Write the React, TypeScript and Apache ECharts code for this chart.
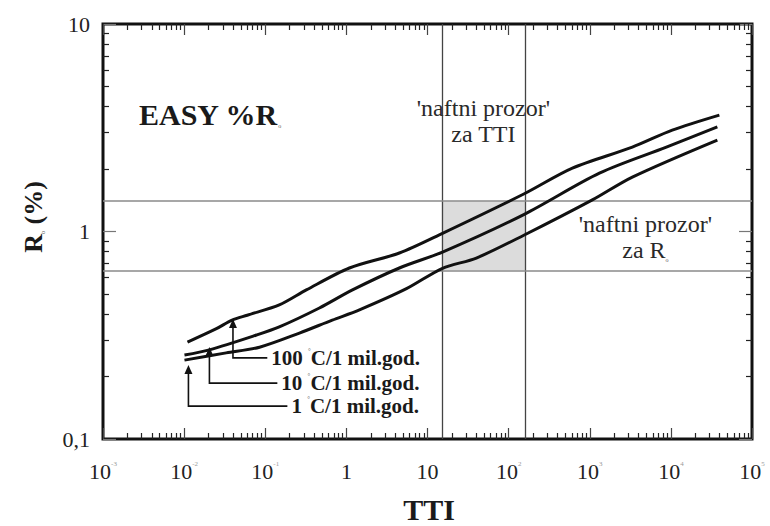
import { useEffect, useRef } from 'react';
import * as echarts from 'echarts';

// ---- data ----
const xTickLabels = ['10|-3', '10|-2', '10|-1', '1', '10', '10|2', '10|3', '10|4', '10|5'];
const yTickLabels = ['0,1', '1', '10'];
const xDecades = [-3, -2, -1, 0, 1, 2, 3, 4, 5];
const yDecades = [-1, 0, 1];

const curve100C = [
  [0.011, 0.293], [0.025, 0.34], [0.039, 0.374], [0.06, 0.395], [0.149, 0.443], [0.321, 0.523],
  [1.09, 0.667], [4.5, 0.788], [15.3, 0.98], [156, 1.52], [611, 2.02],
  [3350, 2.55], [10400, 3.08], [39600, 3.64],
];
const curve10C = [
  [0.0101, 0.254], [0.0205, 0.269], [0.078, 0.317], [0.149, 0.347], [0.465, 0.428],
  [1.19, 0.523], [4.5, 0.667], [15.3, 0.796], [156, 1.21], [1315, 1.91],
  [8800, 2.55], [37400, 3.19],
];
const curve1C = [
  [0.0101, 0.24], [0.033, 0.26], [0.085, 0.277], [0.264, 0.324], [0.67, 0.374],
  [1.45, 0.419], [5.5, 0.53], [15.3, 0.665], [40, 0.745], [156, 0.962],
  [1077, 1.42], [3350, 1.83], [37400, 2.76],
];

const ttiWindow = [15, 160];
const roWindow = [0.65, 1.4];

// arrow: [x of arrow, R at tip, R of label row, x where horizontal leader ends]
const arrowRates = ['100', '10', '1'];
const arrowData = [
  [0.04, 0.379, 0.246, 0.106],
  [0.0205, 0.2776, 0.186, 0.141],
  [0.0113, 0.2274, 0.144, 0.1874],
];

// window labels: [TTI, R] centre
const windowLabelData = [
  [48.9, 3.39],
  [4850, 0.936],
];

const X_MIN = 1e-3;
const X_MAX = 1e5;
const Y_MIN = 0.1;
const Y_MAX = 10;

const serif = '"Liberation Serif", "Times New Roman", serif';

export default function App() {
  const ref = useRef<HTMLDivElement>(null);

  useEffect(() => {
    if (!ref.current) return;
    const chart = echarts.init(ref.current, null, { renderer: 'svg' });

    const lineSeries = (name: string, data: number[][]) => ({
      name,
      type: 'line',
      data,
      smooth: 0.3,
      showSymbol: false,
      symbol: 'none',
      lineStyle: { color: '#111', width: 3 },
      z: 5,
    });

    const ticksX = {
      axisTick: { show: true, inside: true, length: 11, lineStyle: { color: '#444', width: 1.2 } },
      minorTick: { show: true, splitNumber: 9, length: 6, lineStyle: { color: '#222', width: 1.2 } },
    };
    const ticksY = {
      axisTick: { show: true, inside: true, length: 13, lineStyle: { color: '#777', width: 1.2 } },
      minorTick: { show: true, splitNumber: 9, length: 6, lineStyle: { color: '#222', width: 1.2 } },
    };

    const xLabelFormatter = (v: number) => {
      const idx = Math.round(Math.log10(v)) - xDecades[0];
      const t = xTickLabels[idx] || '';
      const parts = t.split('|');
      if (parts.length === 1) return `{b|${parts[0]}}`;
      return `{b|${parts[0]}}{s|${parts[1]}}`;
    };
    const yLabelFormatter = (v: number) => {
      const idx = Math.round(Math.log10(v)) - yDecades[0];
      return yTickLabels[idx] || '';
    };

    const option: any = {
      animation: false,
      backgroundColor: '#fff',
      grid: {
        left: 103,
        top: 24,
        right: 18,
        bottom: 87,
        show: true,
        borderColor: '#111',
        borderWidth: 3,
        backgroundColor: 'transparent',
      },
      xAxis: [
        {
          type: 'log',
          logBase: 10,
          min: X_MIN,
          max: X_MAX,
          splitNumber: 8,
          position: 'bottom',
          axisLine: { show: false },
          splitLine: { show: false },
          ...ticksX,
          axisLabel: {
            margin: 21,
            formatter: xLabelFormatter,
            rich: {
              b: { fontFamily: serif, fontSize: 22, color: '#222' },
              s: { fontFamily: serif, fontSize: 7, color: '#999', verticalAlign: 'top' },
            },
          },
        },
        {
          type: 'log',
          logBase: 10,
          min: X_MIN,
          max: X_MAX,
          splitNumber: 8,
          position: 'top',
          axisLine: { show: false },
          splitLine: { show: false },
          axisLabel: { show: false },
          ...ticksX,
        },
      ],
      yAxis: [
        {
          type: 'log',
          logBase: 10,
          min: Y_MIN,
          max: Y_MAX,
          splitNumber: 2,
          position: 'left',
          axisLine: { show: false },
          splitLine: { show: false },
          ...ticksY,
          axisLabel: {
            margin: 13,
            fontFamily: serif,
            fontSize: 22,
            color: '#222',
            formatter: yLabelFormatter,
          },
        },
        {
          type: 'log',
          logBase: 10,
          min: Y_MIN,
          max: Y_MAX,
          splitNumber: 2,
          position: 'right',
          axisLine: { show: false },
          splitLine: { show: false },
          axisLabel: { show: false },
          ...ticksY,
        },
      ],
      graphic: [
        {
          type: 'text',
          left: 139,
          top: 99,
          style: {
            text: '{a|EASY %R}{s|o}',
            rich: {
              a: { fontFamily: serif, fontSize: 30, fontWeight: 'bold', fill: '#1a1a1a' },
              s: { fontFamily: serif, fontSize: 6, fill: '#555', verticalAlign: 'bottom' },
            },
          },
        },
        {
          type: 'text',
          x: 33,
          y: 217,
          rotation: Math.PI / 2,
          style: {
            text: '{a|R}{s|o}{a| (%)}',
            align: 'center',
            verticalAlign: 'middle',
            rich: {
              a: { fontFamily: serif, fontSize: 26, fontWeight: 'bold', fill: '#1a1a1a' },
              s: { fontFamily: serif, fontSize: 6, fill: '#555', verticalAlign: 'bottom' },
            },
          },
        },
        {
          type: 'text',
          x: 429,
          y: 509,
          style: {
            text: 'TTI',
            align: 'center',
            verticalAlign: 'middle',
            fontFamily: serif,
            fontSize: 30,
            fontWeight: 'bold',
            fill: '#1a1a1a',
          },
        },
      ],
      series: [
        {
          ...lineSeries('1 C/1 mil.god.', curve1C),
          markArea: {
            silent: true,
            itemStyle: { color: '#dcdcdc' },
            data: [[
              { xAxis: ttiWindow[0], yAxis: roWindow[0] },
              { xAxis: ttiWindow[1], yAxis: roWindow[1] },
            ]],
          },
          markLine: {
            silent: true,
            symbol: ['none', 'none'],
            label: { show: false },
            data: [
              { xAxis: ttiWindow[0], lineStyle: { color: '#444', width: 1.3, type: 'solid' } },
              { xAxis: ttiWindow[1], lineStyle: { color: '#444', width: 1.3, type: 'solid' } },
              { yAxis: roWindow[0], lineStyle: { color: '#8a8a8a', width: 1.5, type: 'solid' } },
              { yAxis: roWindow[1], lineStyle: { color: '#8a8a8a', width: 1.5, type: 'solid' } },
            ],
          },
        },
        lineSeries('10 C/1 mil.god.', curve10C),
        lineSeries('100 C/1 mil.god.', curve100C),
        {
          type: 'custom',
          name: 'arrows',
          silent: true,
          data: arrowData,
          encode: { x: 0, y: 1 },
          z: 7,
          renderItem: (params: any, api: any) => {
            const ax = api.value(0);
            const tip = api.value(1);
            const ly = api.value(2);
            const endX = api.value(3);
            const pTip = api.coord([ax, tip]);
            const pCorner = api.coord([ax, ly]);
            const pEnd = api.coord([endX, ly]);
            const rate = arrowRates[params.dataIndex];
            return {
              type: 'group',
              children: [
                {
                  type: 'polyline',
                  shape: { points: [[pEnd[0], pEnd[1]], [pCorner[0], pCorner[1]], [pTip[0], pTip[1] + 6]] },
                  style: { stroke: '#111', lineWidth: 1.6, fill: null },
                },
                {
                  type: 'polygon',
                  shape: { points: [[pTip[0], pTip[1]], [pTip[0] - 4, pTip[1] + 9], [pTip[0] + 4, pTip[1] + 9]] },
                  style: { fill: '#111' },
                },
                {
                  type: 'text',
                  x: pEnd[0] + 4,
                  y: pEnd[1],
                  style: {
                    text: `{a|${rate} }{d|°}{a|C/1 mil.god.}`,
                    align: 'left',
                    verticalAlign: 'middle',
                    rich: {
                      a: { fontFamily: serif, fontSize: 21, fontWeight: 'bold', fill: '#1a1a1a' },
                      d: { fontFamily: serif, fontSize: 7, fill: '#666', verticalAlign: 'top' },
                    },
                  },
                },
              ],
            };
          },
        },
        {
          type: 'custom',
          name: 'windowLabels',
          silent: true,
          data: windowLabelData,
          encode: { x: 0, y: 1 },
          z: 7,
          renderItem: (params: any, api: any) => {
            const p = api.coord([api.value(0), api.value(1)]);
            const texts = [
              "{a|'naftni prozor'}\n{a|za TTI}",
              "{a|'naftni prozor'}\n{a|za R}{s|o}",
            ];
            return {
              type: 'text',
              x: p[0],
              y: p[1],
              style: {
                text: texts[params.dataIndex],
                align: 'center',
                verticalAlign: 'middle',
                rich: {
                  a: { fontFamily: serif, fontSize: 24, fill: '#2a2a2a', lineHeight: 26 },
                  s: { fontFamily: serif, fontSize: 6, fill: '#555', lineHeight: 26, verticalAlign: 'bottom' },
                },
              },
            };
          },
        },
      ],
    };

    chart.setOption(option);
    return () => chart.dispose();
  }, []);

  return (
    <div
      ref={ref}
      style={{ position: 'absolute', left: 0, top: 0, width: 770, height: 526, background: '#fff' }}
    />
  );
}
